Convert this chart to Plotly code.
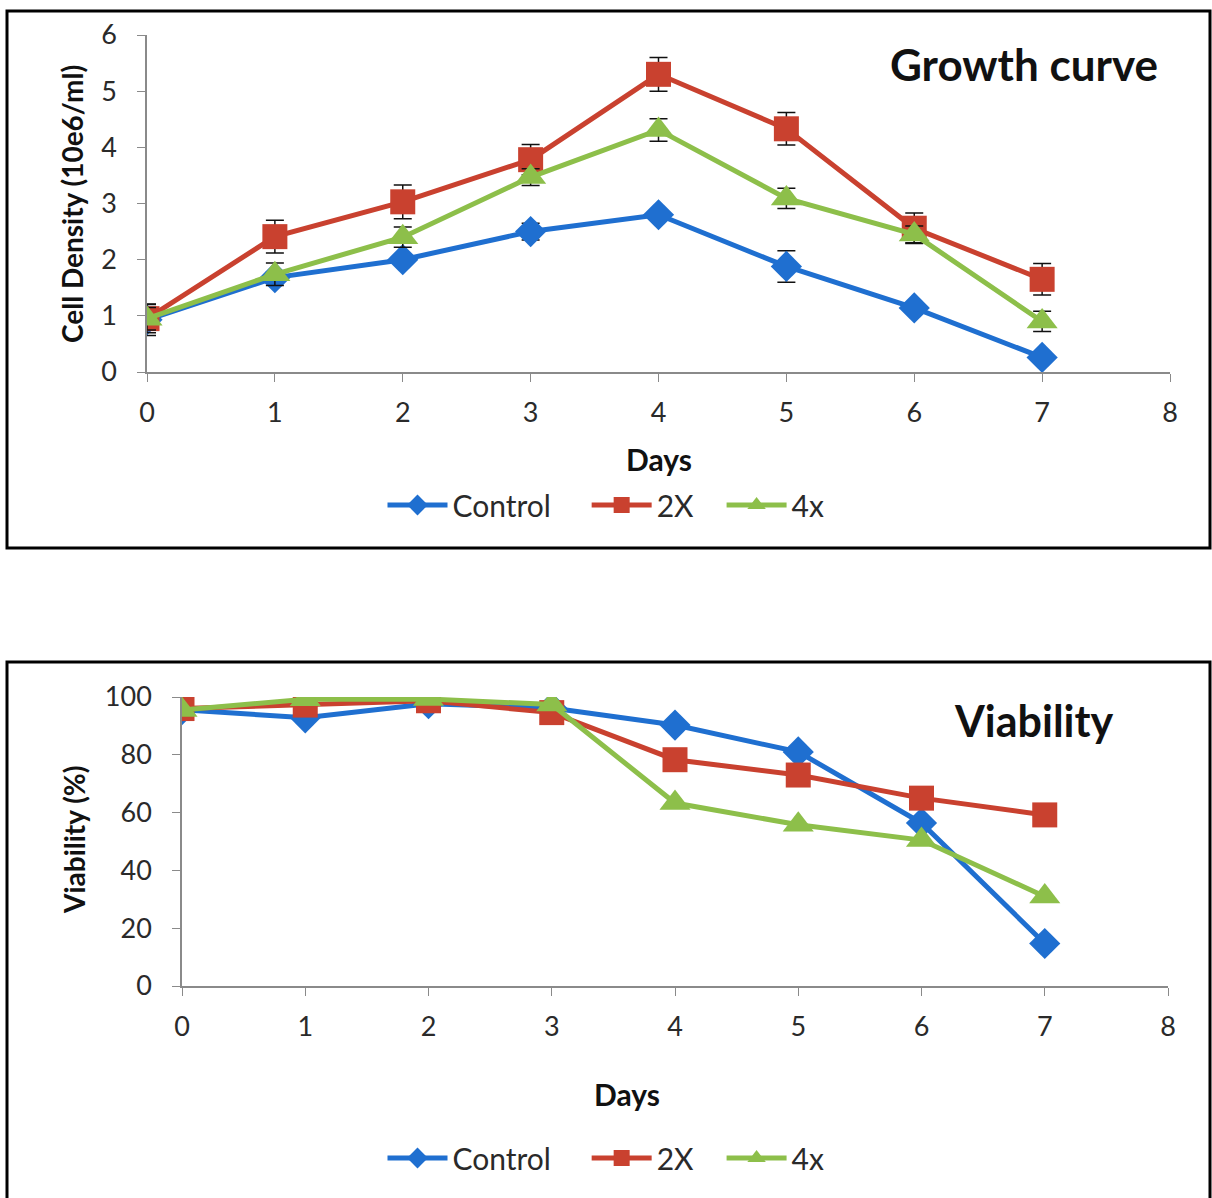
import plotly.graph_objects as go

days = [0, 1, 2, 3, 4, 5, 6, 7]
series_names = ["Control", "2X", "4x"]

# Growth curve (cell density, 10e6/ml)
density_control = [0.93, 1.68, 2.0, 2.5, 2.8, 1.88, 1.14, 0.26]
density_2x = [0.95, 2.41, 3.03, 3.78, 5.3, 4.33, 2.56, 1.65]
density_4x = [0.95, 1.74, 2.4, 3.47, 4.31, 3.09, 2.45, 0.9]
err_control = [0.28, 0.1, 0.08, 0.15, 0.08, 0.28, 0.08, 0.05]
err_2x = [0.25, 0.29, 0.3, 0.27, 0.3, 0.29, 0.27, 0.28]
err_4x = [0.2, 0.2, 0.18, 0.15, 0.2, 0.18, 0.15, 0.18]

# Viability (%)
viab_control = [95.6, 92.8, 97.7, 96.2, 90.3, 81.0, 56.4, 14.7]
viab_2x = [96.0, 97.2, 98.7, 94.6, 78.3, 73.0, 65.0, 59.2]
viab_4x = [95.5, 99.2, 99.3, 97.4, 63.3, 55.8, 50.5, 31.0]

x_ticks = [0, 1, 2, 3, 4, 5, 6, 7, 8]
y1_ticks = [0, 1, 2, 3, 4, 5, 6]
y2_ticks = [0, 20, 40, 60, 80, 100]

colors = ["#1f6fd0", "#c9412f", "#8dbf4a"]
symbols = ["diamond", "square", "triangle-up"]
msizes = [24, 25, 27]
FONT = "Lato"
NB = "\u00a0"
legend_labels = [series_names[0] + NB * 4, series_names[1] + NB * 3, series_names[2]]

fig = go.Figure()

dens = [density_control, density_2x, density_4x]
errs = [err_control, err_2x, err_4x]
for i, name in enumerate(series_names):
    fig.add_trace(go.Scatter(
        x=days, y=dens[i], name=legend_labels[i], mode="lines+markers",
        line=dict(color=colors[i], width=5),
        marker=dict(symbol=symbols[i], size=msizes[i], color=colors[i]),
        error_y=dict(type="data", array=errs[i], visible=True,
                     color="#111111", thickness=1.5, width=9),
        xaxis="x", yaxis="y", legend="legend",
    ))

viab = [viab_control, viab_2x, viab_4x]
for i, name in enumerate(series_names):
    fig.add_trace(go.Scatter(
        x=days, y=viab[i], name=legend_labels[i], mode="lines+markers",
        line=dict(color=colors[i], width=5),
        marker=dict(symbol=symbols[i], size=msizes[i], color=colors[i]),
        xaxis="x2", yaxis="y2", legend="legend2",
    ))

W, H = 1212, 1198
def px(x):
    return x / W
def py(y):
    return 1 - y / H

axis_common = dict(
    showgrid=False, zeroline=False, showline=True, linecolor="#8a8a8a",
    linewidth=1.5, ticks="outside", ticklen=8, tickcolor="#8a8a8a",
    tickfont=dict(family=FONT, size=27, color="#2a2a2a"),
    automargin=False,
)

legend_common = dict(orientation="h", x=0.5, xanchor="center", yanchor="middle",
                     font=dict(family=FONT, size=30, color="#2a2a2a"),
                     bgcolor="rgba(0,0,0,0)", itemwidth=60, tracegroupgap=0)

fig.update_layout(
    width=W, height=H,
    margin=dict(l=0, r=0, t=0, b=0, pad=0, autoexpand=False),
    paper_bgcolor="white", plot_bgcolor="white",
    showlegend=True,
    xaxis=dict(axis_common, domain=[px(147), px(1170)], range=[0, 8],
               tickvals=x_ticks, anchor="y", ticklabelstandoff=8),
    yaxis=dict(axis_common, domain=[py(372), py(35)], range=[0, 6],
               tickvals=y1_ticks, anchor="x", ticklabelstandoff=15),
    xaxis2=dict(axis_common, domain=[px(182), px(1168)], range=[0, 8],
                tickvals=x_ticks, anchor="y2", ticklabelstandoff=8),
    yaxis2=dict(axis_common, domain=[py(986), py(697)], range=[0, 100],
                tickvals=y2_ticks, anchor="x2", ticklabelstandoff=15),
    legend=dict(legend_common, y=py(505)),
    legend2=dict(legend_common, y=py(1158)),
)

annotations = [
    dict(text="<b>Growth curve</b>", x=px(1024), y=py(64), font=dict(size=44)),
    dict(text="<b>Viability</b>", x=px(1034), y=py(720), font=dict(size=43)),
    dict(text="<b>Days</b>", x=px(659), y=py(459), font=dict(size=30)),
    dict(text="<b>Days</b>", x=px(627), y=py(1094), font=dict(size=30)),
    dict(text="<b>Cell Density (10e6/ml)</b>", x=px(72), y=py(204), font=dict(size=28), textangle=-90),
    dict(text="<b>Viability (%)</b>", x=px(74), y=py(840), font=dict(size=28), textangle=-90),
]
for a in annotations:
    a["font"].update(family=FONT, color="#111111")
    fig.add_annotation(xref="paper", yref="paper", xanchor="center", yanchor="middle",
                       showarrow=False, **a)

# panel borders
fig.add_shape(type="rect", xref="paper", yref="paper",
              x0=px(7), x1=px(1210), y0=py(548), y1=py(11),
              line=dict(color="black", width=3))
fig.add_shape(type="rect", xref="paper", yref="paper",
              x0=px(7), x1=px(1210), y0=py(1200), y1=py(662),
              line=dict(color="black", width=3))

fig.write_html("out.html")
